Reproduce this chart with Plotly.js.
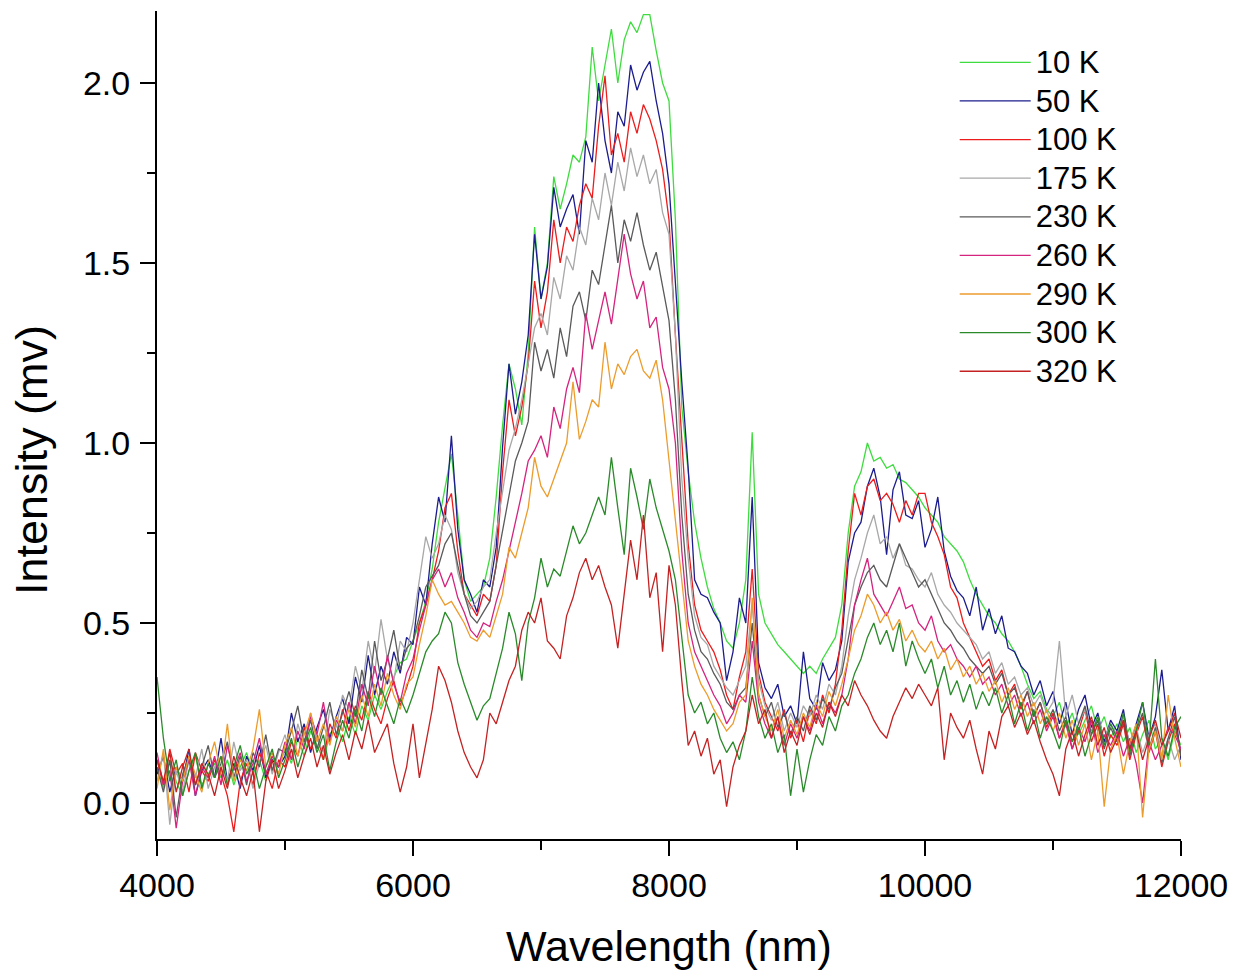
<!DOCTYPE html>
<html>
<head>
<meta charset="utf-8">
<script src="https://cdn.plot.ly/plotly-3.0.1.min.js"></script>
<style>
  html, body { margin: 0; padding: 0; background: #fff; }
  #chart { width: 1234px; height: 970px; }
</style>
</head>
<body>
<div id="chart"></div>
<script>
// Wavelength grid (nm): 4000 ... 12000 sampled every 50 nm
const wavelength = [];
for (let w = 4000; w <= 12000; w += 50) wavelength.push(w);

const seriesNames = ['10 K', '50 K', '100 K', '175 K', '230 K', '260 K', '290 K', '300 K', '320 K'];

const i10K = [
  0.10,0.04,0.12,0.06,0.02,0.09,0.13,0.05,0.08,0.11,
  0.07,0.12,0.05,0.10,0.14,0.08,0.12,0.06,0.13,0.10,
  0.15,0.11,0.18,0.13,0.20,0.16,0.12,0.19,0.22,0.17,
  0.24,0.19,0.27,0.23,0.30,0.26,0.31,0.35,0.39,0.40,
  0.45,0.50,0.56,0.65,0.78,0.88,0.97,0.80,0.62,0.56,
  0.58,0.60,0.68,0.85,1.05,1.22,1.15,1.05,1.25,1.60,
  1.40,1.50,1.74,1.65,1.72,1.80,1.78,1.85,2.10,1.95,
  2.05,2.15,2.00,2.12,2.17,2.14,2.19,2.19,2.09,2.00,
  1.95,1.62,1.10,0.92,0.78,0.68,0.60,0.54,0.50,0.45,
  0.43,0.50,0.62,1.03,0.58,0.50,0.47,0.44,0.42,0.40,
  0.38,0.36,0.38,0.36,0.40,0.43,0.46,0.55,0.75,0.88,
  0.92,1.00,0.95,0.96,0.93,0.94,0.90,0.89,0.87,0.85,
  0.82,0.80,0.78,0.74,0.72,0.70,0.67,0.62,0.58,0.55,
  0.52,0.50,0.47,0.45,0.42,0.38,0.33,0.29,0.31,0.26,
  0.24,0.28,0.21,0.25,0.19,0.23,0.27,0.20,0.24,0.18,
  0.22,0.17,0.21,0.14,0.19,0.23,0.15,0.18,0.12,0.20,
  0.16];

const i50K = [
  0.08,0.13,0.03,0.10,0.06,0.15,0.02,0.09,0.12,0.07,
  0.18,0.06,0.11,0.04,0.13,0.09,0.16,0.07,0.12,0.10,
  0.13,0.25,0.17,0.22,0.14,0.21,0.26,0.18,0.24,0.29,
  0.22,0.35,0.28,0.41,0.30,0.38,0.33,0.42,0.36,0.46,
  0.44,0.60,0.55,0.72,0.85,0.78,1.02,0.76,0.62,0.58,
  0.53,0.62,0.60,0.71,0.99,1.22,1.08,1.17,1.30,1.58,
  1.40,1.49,1.71,1.60,1.65,1.69,1.58,1.84,1.78,2.00,
  1.84,1.75,1.92,1.88,2.05,1.98,2.03,2.06,1.95,1.86,
  1.72,1.44,1.17,0.93,0.62,0.58,0.57,0.53,0.50,0.34,
  0.42,0.57,0.50,0.85,0.39,0.32,0.29,0.33,0.24,0.27,
  0.22,0.42,0.29,0.26,0.39,0.34,0.37,0.45,0.67,0.75,
  0.78,0.88,0.93,0.85,0.69,0.87,0.92,0.80,0.79,0.84,
  0.71,0.76,0.85,0.70,0.63,0.59,0.57,0.52,0.60,0.48,
  0.54,0.47,0.52,0.43,0.42,0.38,0.36,0.30,0.34,0.27,
  0.31,0.22,0.28,0.19,0.26,0.30,0.21,0.25,0.17,0.23,
  0.20,0.26,0.15,0.22,0.28,0.18,0.24,0.37,0.20,0.27,
  0.12];

const i100K = [
  0.12,0.05,0.15,0.08,0.11,0.03,0.14,0.09,0.06,0.12,
  0.08,0.02,-0.08,0.06,0.11,0.05,0.14,0.09,0.04,0.12,
  0.10,0.17,0.13,0.21,0.15,0.19,0.12,0.22,0.18,0.26,
  0.20,0.27,0.23,0.31,0.26,0.22,0.29,0.34,0.27,0.32,
  0.38,0.50,0.55,0.62,0.70,0.82,0.86,0.70,0.58,0.55,
  0.52,0.58,0.56,0.66,0.92,1.12,1.02,1.10,1.22,1.45,
  1.32,1.42,1.62,1.50,1.60,1.56,1.66,1.72,1.68,1.88,
  2.02,1.80,1.86,1.78,1.92,1.86,1.94,1.90,1.84,1.76,
  1.62,1.30,1.00,0.72,0.55,0.48,0.45,0.42,0.37,0.30,
  0.26,0.35,0.42,0.65,0.36,0.28,0.24,0.20,0.26,0.18,
  0.23,0.17,0.26,0.22,0.30,0.25,0.33,0.48,0.70,0.86,
  0.80,0.88,0.90,0.84,0.86,0.83,0.78,0.84,0.80,0.86,
  0.86,0.78,0.74,0.69,0.60,0.57,0.50,0.46,0.42,0.38,
  0.40,0.34,0.37,0.30,0.33,0.26,0.31,0.24,0.28,0.21,
  0.25,0.18,0.23,0.15,0.20,0.26,0.17,0.22,0.13,0.19,
  0.16,0.22,0.12,0.19,0.24,0.14,0.20,0.10,0.17,0.22,
  0.14];

const i175K = [
  0.06,0.14,-0.06,0.09,0.03,0.12,0.07,0.15,0.04,0.10,
  0.13,0.06,0.17,0.09,0.12,0.04,0.11,0.16,0.08,0.14,
  0.19,0.12,0.22,0.16,0.25,0.18,0.14,0.26,0.21,0.30,
  0.26,0.38,0.31,0.45,0.36,0.51,0.40,0.34,0.45,0.42,
  0.50,0.62,0.74,0.68,0.72,0.80,0.76,0.64,0.58,0.54,
  0.56,0.60,0.62,0.75,0.86,0.98,1.04,1.12,1.22,1.32,
  1.36,1.30,1.46,1.40,1.52,1.48,1.60,1.55,1.68,1.62,
  1.75,1.66,1.78,1.70,1.82,1.74,1.80,1.72,1.76,1.64,
  1.58,1.30,0.90,0.68,0.52,0.46,0.44,0.38,0.35,0.32,
  0.30,0.34,0.38,0.55,0.34,0.27,0.23,0.28,0.20,0.25,
  0.21,0.27,0.24,0.30,0.26,0.33,0.30,0.38,0.52,0.62,
  0.68,0.75,0.80,0.72,0.74,0.68,0.72,0.66,0.65,0.62,
  0.60,0.64,0.58,0.55,0.53,0.50,0.48,0.46,0.44,0.40,
  0.42,0.36,0.39,0.33,0.35,0.30,0.32,0.27,0.30,0.25,
  0.28,0.45,0.24,0.30,0.22,0.26,0.20,0.24,0.18,0.22,
  0.19,0.24,0.16,0.21,0.14,0.19,0.22,0.13,0.18,0.12,
  0.16];

const i230K = [
  0.10,0.03,0.12,-0.04,0.08,0.13,0.05,0.10,0.16,0.07,
  0.11,0.17,0.07,0.13,0.05,0.14,0.10,0.19,0.09,0.15,
  0.14,0.20,0.27,0.17,0.23,0.15,0.21,0.28,0.19,0.25,
  0.31,0.24,0.37,0.29,0.45,0.34,0.40,0.48,0.37,0.43,
  0.45,0.52,0.60,0.63,0.66,0.72,0.75,0.66,0.58,0.52,
  0.50,0.53,0.56,0.66,0.76,0.86,0.95,1.00,1.06,1.28,
  1.20,1.26,1.18,1.32,1.24,1.38,1.42,1.34,1.48,1.44,
  1.55,1.66,1.50,1.62,1.56,1.64,1.55,1.48,1.53,1.44,
  1.34,1.12,0.80,0.58,0.48,0.42,0.40,0.36,0.33,0.28,
  0.26,0.30,0.32,0.50,0.30,0.24,0.28,0.21,0.25,0.19,
  0.24,0.20,0.27,0.23,0.29,0.26,0.32,0.36,0.45,0.55,
  0.60,0.64,0.66,0.62,0.60,0.66,0.72,0.68,0.64,0.60,
  0.62,0.58,0.54,0.50,0.48,0.45,0.43,0.40,0.38,0.36,
  0.38,0.33,0.36,0.30,0.32,0.27,0.31,0.24,0.28,0.22,
  0.26,0.20,0.24,0.17,0.22,0.27,0.19,0.23,0.15,0.21,
  0.17,0.23,0.13,0.20,0.25,0.15,0.21,0.11,0.18,0.24,
  0.13];

const i260K = [
  0.14,0.05,0.09,-0.07,0.06,0.12,0.02,0.10,0.07,0.13,
  0.05,0.16,0.09,0.14,0.06,0.11,0.18,0.08,0.13,0.10,
  0.17,0.12,0.20,0.15,0.24,0.19,0.28,0.17,0.23,0.20,
  0.28,0.22,0.33,0.27,0.38,0.30,0.41,0.33,0.28,0.36,
  0.40,0.48,0.55,0.62,0.65,0.60,0.64,0.57,0.53,0.48,
  0.46,0.50,0.49,0.56,0.62,0.70,0.78,0.86,0.95,0.98,
  1.02,0.96,1.10,1.04,1.15,1.21,1.14,1.36,1.26,1.34,
  1.42,1.33,1.45,1.58,1.47,1.40,1.45,1.32,1.35,1.21,
  1.15,1.00,0.70,0.50,0.42,0.38,0.34,0.30,0.27,0.22,
  0.25,0.30,0.28,0.45,0.28,0.22,0.18,0.24,0.16,0.22,
  0.18,0.24,0.20,0.27,0.22,0.28,0.25,0.30,0.40,0.55,
  0.62,0.68,0.58,0.55,0.52,0.56,0.60,0.54,0.55,0.50,
  0.48,0.52,0.45,0.42,0.44,0.40,0.38,0.35,0.38,0.33,
  0.35,0.30,0.33,0.27,0.30,0.24,0.28,0.22,0.26,0.20,
  0.24,0.18,0.22,0.15,0.21,0.17,0.23,0.14,0.19,0.16,
  0.20,0.13,0.18,0.11,0.00,0.17,0.12,0.16,0.21,0.19,
  0.15];

const i290K = [
  0.04,0.15,-0.02,0.10,0.06,0.13,0.08,0.03,0.11,0.17,
  0.08,0.22,0.06,0.12,0.09,0.15,0.26,0.10,0.14,0.08,
  0.16,0.21,0.13,0.19,0.25,0.17,0.22,0.16,0.24,0.20,
  0.26,0.21,0.30,0.24,0.33,0.27,0.36,0.30,0.26,0.33,
  0.35,0.44,0.52,0.62,0.58,0.55,0.56,0.53,0.50,0.46,
  0.45,0.48,0.46,0.52,0.58,0.71,0.68,0.75,0.82,0.96,
  0.88,0.85,0.90,0.95,1.00,1.17,1.01,1.06,1.12,1.10,
  1.28,1.15,1.22,1.19,1.24,1.26,1.20,1.18,1.23,1.12,
  0.95,0.80,0.62,0.45,0.38,0.33,0.30,0.26,0.23,0.20,
  0.22,0.28,0.30,0.57,0.30,0.24,0.20,0.26,0.18,0.23,
  0.19,0.25,0.21,0.28,0.24,0.31,0.27,0.33,0.40,0.48,
  0.52,0.58,0.55,0.50,0.53,0.48,0.51,0.45,0.48,0.44,
  0.42,0.45,0.40,0.43,0.37,0.40,0.35,0.38,0.33,0.36,
  0.31,0.34,0.28,0.32,0.26,0.30,0.24,0.28,0.22,0.26,
  0.20,0.25,0.18,0.23,0.16,0.22,0.12,0.20,-0.01,0.15,
  0.19,0.08,0.17,0.22,-0.04,0.15,0.20,0.12,0.30,0.18,
  0.10];

const i300K = [
  0.35,0.18,0.06,0.12,0.02,0.09,0.14,0.04,0.11,0.07,
  0.13,0.05,0.10,0.16,0.08,0.12,0.04,0.10,0.15,0.07,
  0.12,0.18,0.10,0.16,0.21,0.14,0.19,0.09,0.17,0.23,
  0.18,0.26,0.20,0.30,0.24,0.32,0.27,0.22,0.29,0.25,
  0.30,0.36,0.42,0.45,0.47,0.53,0.50,0.39,0.33,0.28,
  0.23,0.27,0.29,0.36,0.43,0.53,0.47,0.34,0.50,0.57,
  0.68,0.60,0.65,0.63,0.70,0.77,0.72,0.75,0.80,0.85,
  0.80,0.96,0.82,0.69,0.93,0.85,0.76,0.90,0.82,0.76,
  0.70,0.62,0.45,0.30,0.25,0.28,0.22,0.25,0.18,0.14,
  0.17,0.12,0.20,0.35,0.24,0.18,0.22,0.14,0.19,0.02,
  0.15,0.03,0.12,0.19,0.16,0.24,0.20,0.27,0.30,0.36,
  0.40,0.46,0.50,0.44,0.48,0.42,0.50,0.38,0.45,0.40,
  0.36,0.40,0.32,0.38,0.30,0.34,0.28,0.33,0.26,0.31,
  0.27,0.32,0.25,0.30,0.22,0.28,0.20,0.26,0.18,0.24,
  0.20,0.15,0.23,0.17,0.21,0.13,0.19,0.24,0.16,0.22,
  0.18,0.25,0.14,0.20,0.28,0.16,0.40,0.18,0.13,0.21,
  0.24];

const i320K = [
  0.12,0.06,0.14,0.03,0.10,0.15,0.05,0.11,0.08,0.02,
  0.10,0.04,0.13,0.07,0.02,0.09,-0.08,0.06,0.12,0.04,
  0.09,0.15,0.07,0.13,0.18,0.10,0.16,0.08,0.14,0.19,
  0.12,0.20,0.15,0.23,0.14,0.18,0.22,0.11,0.03,0.10,
  0.22,0.07,0.16,0.26,0.38,0.34,0.28,0.20,0.14,0.10,
  0.07,0.12,0.25,0.22,0.28,0.34,0.38,0.48,0.53,0.50,
  0.57,0.45,0.43,0.40,0.52,0.57,0.64,0.68,0.62,0.66,
  0.60,0.55,0.43,0.58,0.73,0.62,0.80,0.57,0.64,0.42,
  0.66,0.55,0.34,0.16,0.20,0.13,0.18,0.08,0.12,-0.01,
  0.10,0.16,0.20,0.30,0.22,0.26,0.18,0.24,0.14,0.20,
  0.16,0.24,0.19,0.25,0.21,0.28,0.24,0.30,0.27,0.34,
  0.30,0.27,0.23,0.20,0.18,0.24,0.28,0.32,0.29,0.33,
  0.30,0.27,0.32,0.12,0.25,0.21,0.18,0.23,0.15,0.08,
  0.20,0.15,0.24,0.27,0.21,0.25,0.19,0.23,0.17,0.12,
  0.08,0.02,0.15,0.20,0.13,0.19,0.24,0.16,0.21,0.14,
  0.18,0.23,0.15,0.20,0.12,0.18,0.23,0.16,0.20,0.25,
  0.18];

const seriesValues = [i10K, i50K, i100K, i175K, i230K, i260K, i290K, i300K, i320K];
const seriesColors = ['#3fdc3f', '#1c1c8e', '#ec1c1c', '#a8a8a8', '#5a5a5a', '#d4247e', '#ec9c2c', '#2a8a2a', '#c42222'];

const traces = seriesNames.map((name, k) => ({
  type: 'scatter',
  mode: 'lines',
  x: wavelength,
  y: seriesValues[k],
  name: '<span style="font-size:31px">' + name + '</span>',
  line: { color: seriesColors[k], width: 1.3, shape: 'linear' },
  hoverinfo: 'skip'
}));

const axisCommon = {
  showgrid: false,
  zeroline: false,
  showline: true,
  linewidth: 2,
  linecolor: '#000',
  ticks: 'outside',
  ticklen: 15,
  tickwidth: 2,
  tickcolor: '#000',
  mirror: false
};

const layout = {
  width: 1234,
  height: 970,
  margin: { l: 157, r: 53, t: 11, b: 131, pad: 0 },
  paper_bgcolor: '#ffffff',
  plot_bgcolor: '#ffffff',
  font: { family: '"Liberation Sans", Arial, sans-serif', color: '#000' },
  showlegend: true,
  legend: {
    x: 0.779, y: 0.9674, xanchor: 'left', yanchor: 'top',
    font: { size: 27.4, color: '#000' },
    itemwidth: 71,
    bgcolor: 'rgba(255,255,255,0)',
    borderwidth: 0,
    traceorder: 'normal'
  },
  xaxis: Object.assign({}, axisCommon, {
    range: [4000, 12000],
    tick0: 4000, dtick: 2000,
    tickformat: 'd',
    tickfont: { size: 34 },
    minor: { dtick: 1000, tick0: 4000, ticks: 'outside', ticklen: 9, tickwidth: 2, tickcolor: '#000', showgrid: false },
    title: { text: 'Wavelength (nm)', font: { size: 43 }, standoff: 28 }
  }),
  yaxis: Object.assign({}, axisCommon, {
    range: [-0.1, 2.2],
    tick0: 0, dtick: 0.5,
    tickformat: '.1f',
    tickfont: { size: 34 },
    ticklabelstandoff: 3,
    minor: { dtick: 0.25, tick0: 0, ticks: 'outside', ticklen: 8, tickwidth: 2, tickcolor: '#000', showgrid: false }
  }),
  annotations: [{
    text: 'Intensity (mv)',
    xref: 'paper', yref: 'paper',
    x: -0.123, y: 0.4577,
    xanchor: 'center', yanchor: 'middle',
    textangle: -90,
    showarrow: false,
    font: { size: 45, color: '#000' }
  }]
};

Plotly.newPlot('chart', traces, layout, { displayModeBar: false, staticPlot: true });
</script>
</body>
</html>
